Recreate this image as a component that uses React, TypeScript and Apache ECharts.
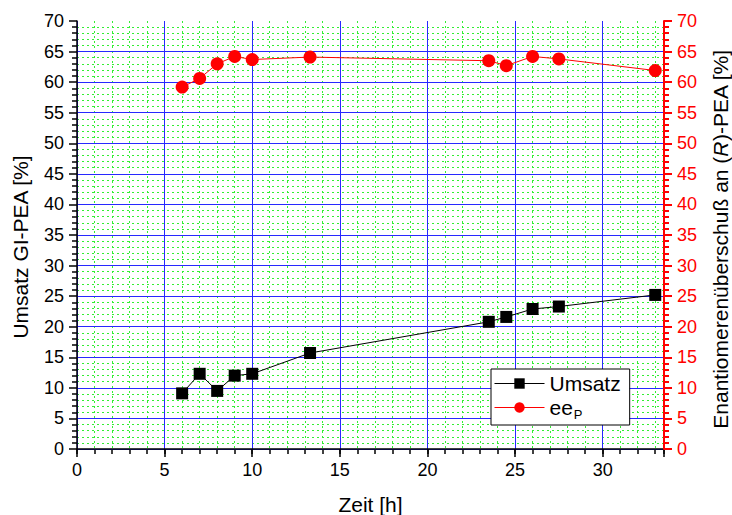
import React, { useEffect, useRef } from "react";
import * as echarts from "echarts";

// Reaction time [h]
const zeit = [6, 7, 8, 9, 10, 13.3, 23.5, 24.5, 26, 27.5, 33];
// Conversion Gl-PEA [%]
const umsatz = [9.1, 12.3, 9.5, 12.0, 12.3, 15.7, 20.8, 21.6, 22.9, 23.3, 25.2];
// Enantiomeric excess of (R)-PEA [%]
const eeP = [59.2, 60.6, 63.0, 64.2, 63.7, 64.1, 63.5, 62.7, 64.2, 63.8, 61.9];

const FONT = "'Liberation Sans', Arial, sans-serif";
const MAJOR_GRID = "rgb(40, 40, 255)";
const MINOR_GRID = "#33ee33";

export default function App() {
  const ref = useRef<HTMLDivElement>(null);

  useEffect(() => {
    if (!ref.current) return;
    const chart = echarts.init(ref.current, undefined, { renderer: "svg" });

    chart.setOption({
      animation: false,
      textStyle: { fontFamily: FONT },
      grid: { left: 77, right: 68, top: 21, bottom: 66, outerBoundsMode: "none", containLabel: false },
      legend: {
        orient: "vertical",
        left: 491,
        top: 369,
        backgroundColor: "#fff",
        borderColor: "#000",
        borderWidth: 1,
        borderRadius: 0,
        padding: [4, 9, 4, 3],
        itemGap: 3,
        itemWidth: 50,
        itemHeight: 13,
        itemStyle: { borderWidth: 0 },
        lineStyle: { width: 1 },
        textStyle: {
          fontFamily: FONT,
          fontSize: 21,
          color: "#000",
          rich: {
            sub: { fontFamily: FONT, fontSize: 13, padding: [14, 0, 0, 1], color: "#000" },
          },
        },
        formatter: (name: string) => (name === "eeP" ? "ee{sub|P}" : name),
        data: ["Umsatz", "eeP"],
      },
      xAxis: [
        {
          type: "value",
          min: 0,
          max: 33.5,
          interval: 5,
          z: 2,
          name: "Zeit [h]",
          nameLocation: "middle",
          nameGap: 45,
          nameTextStyle: { fontFamily: FONT, fontSize: 21, color: "#000" },
          axisLine: { show: true, onZero: false, lineStyle: { color: "#000", width: 1.5 } },
          axisTick: { show: true, length: 8, lineStyle: { color: "#000", width: 1.5 } },
          axisLabel: {
            fontFamily: FONT,
            fontSize: 18,
            color: "#000",
            margin: 12,
            formatter: (v: number) => (v % 5 === 0 ? String(v) : ""),
          },
          splitLine: { show: true, lineStyle: { color: MAJOR_GRID, width: 1, type: "solid" } },
        },
        {
          type: "value",
          min: 0,
          max: 33.5,
          interval: 1,
          z: 0,
          position: "bottom",
          axisLine: { show: false },
          axisTick: { show: true, length: 5, lineStyle: { color: "#000", width: 1.5 } },
          axisLabel: { show: false },
          splitLine: { show: true, lineStyle: { color: MINOR_GRID, width: 1, type: [2, 3] } },
        },
      ],
      yAxis: [
        {
          type: "value",
          min: 0,
          max: 70,
          interval: 5,
          position: "left",
          z: 2,
          axisLine: { show: true, onZero: false, lineStyle: { color: "#000", width: 1.5 } },
          axisTick: { show: true, length: 8, lineStyle: { color: "#000", width: 1.5 } },
          minorTick: { show: true, splitNumber: 5, length: 5, lineStyle: { color: "#000", width: 1.5 } },
          axisLabel: { fontFamily: FONT, fontSize: 18, color: "#000", margin: 13 },
          splitLine: {
            show: true,
            showMaxLine: false,
            lineStyle: { color: MAJOR_GRID, width: 1, type: "solid" },
          },
          minorSplitLine: { show: true, lineStyle: { color: MINOR_GRID, width: 1, type: [2, 3] } },
        },
        {
          type: "value",
          min: 0,
          max: 70,
          interval: 5,
          position: "right",
          z: 3,
          axisLine: { show: true, onZero: false, lineStyle: { color: "#ff0000", width: 2 } },
          axisTick: { show: true, length: 8, lineStyle: { color: "#ff0000", width: 2 } },
          minorTick: { show: true, splitNumber: 5, length: 5, lineStyle: { color: "#ff0000", width: 2 } },
          axisLabel: { fontFamily: FONT, fontSize: 18, color: "#ff0000", margin: 13 },
          splitLine: { show: false },
          minorSplitLine: { show: false },
        },
      ],
      graphic: [
        {
          type: "text",
          x: 20,
          y: 247,
          rotation: Math.PI / 2,
          style: {
            text: "Umsatz GI-PEA [%]",
            fontFamily: FONT,
            fontSize: 21,
            fill: "#000",
            align: "center",
            verticalAlign: "middle",
          },
        },
        {
          type: "text",
          x: 720,
          y: 239,
          rotation: Math.PI / 2,
          style: {
            text: "{a|Enantiomerenüberschuß an (}{i|R}{a|)-PEA [%]}",
            align: "center",
            verticalAlign: "middle",
            rich: {
              a: { fontFamily: FONT, fontSize: 21, color: "#000" },
              i: { fontFamily: FONT, fontSize: 21, fontStyle: "italic", color: "#000" },
            },
          },
        },
      ],
      series: [
        {
          name: "Umsatz",
          type: "line",
          xAxisIndex: 0,
          yAxisIndex: 0,
          data: zeit.map((x, i) => [x, umsatz[i]]),
          symbol: "rect",
          symbolSize: 12,
          itemStyle: { color: "#000" },
          lineStyle: { color: "#000", width: 1 },
          z: 4,
        },
        {
          name: "eeP",
          type: "line",
          xAxisIndex: 0,
          yAxisIndex: 1,
          data: zeit.map((x, i) => [x, eeP[i]]),
          symbol: "circle",
          symbolSize: 13,
          itemStyle: { color: "#ff0000" },
          lineStyle: { color: "#ff0000", width: 1 },
          z: 4,
        },
      ],
    });

    return () => chart.dispose();
  }, []);

  return (
    <div
      ref={ref}
      style={{ width: 732, height: 515, position: "absolute", left: 0, top: 0, background: "#fff" }}
    />
  );
}
